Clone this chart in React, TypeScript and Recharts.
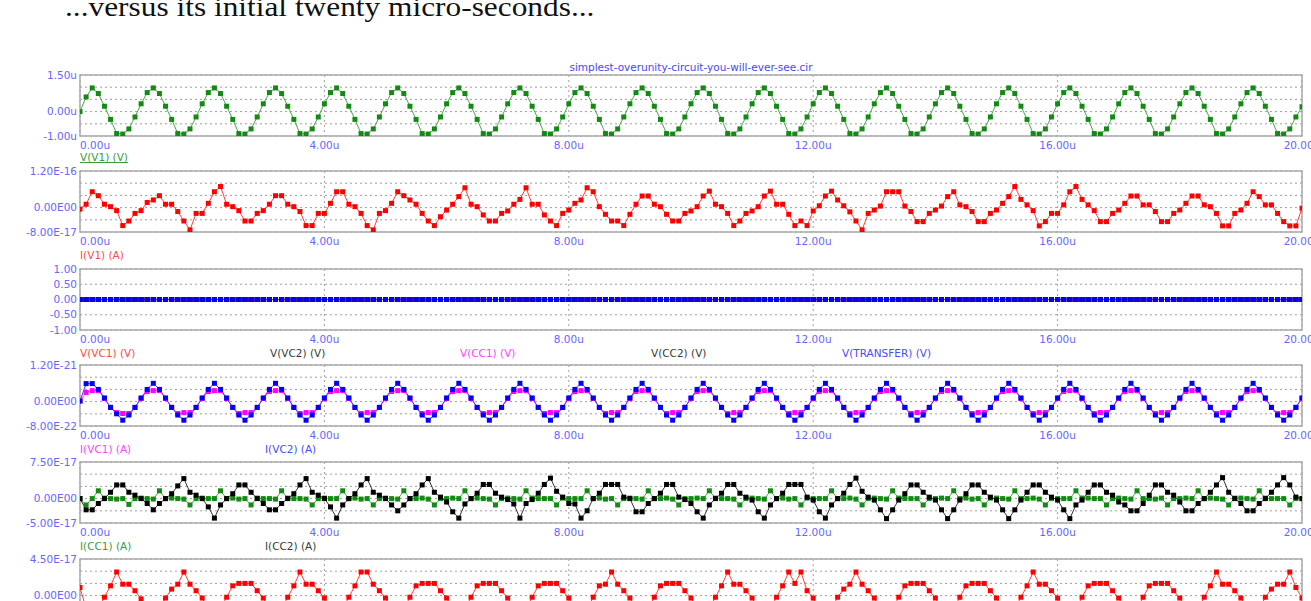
import React from 'react';
import { LineChart, Line, XAxis, YAxis, CartesianGrid, ReferenceArea } from 'recharts';

const FONT = '"DejaVu Sans", Arial, sans-serif';
const AXIS_BLUE = '#6666ff';

// simulator output step (us)
const T_STEP = 0.1;

const xTicks = [0, 4, 8, 12, 16, 20];
const xTickLabels = ['0.00u', '4.00u', '8.00u', '12.00u', '16.00u', '20.00u'];

// V(V1) in uV
const vV1 = [
  0.0, 0.6, 0.97, 0.74, 0.22, -0.32, -0.9, -0.92, -0.71, -0.22,
  0.32, 0.78, 0.97, 0.74, 0.22, -0.32, -0.9, -0.92, -0.71, -0.22,
  0.32, 0.78, 0.97, 0.74, 0.22, -0.32, -0.9, -0.92, -0.71, -0.22,
  0.32, 0.78, 0.97, 0.74, 0.22, -0.32, -0.9, -0.92, -0.71, -0.22,
  0.32, 0.78, 0.97, 0.74, 0.22, -0.32, -0.9, -0.92, -0.71, -0.22,
  0.32, 0.78, 0.97, 0.74, 0.22, -0.32, -0.9, -0.92, -0.71, -0.22,
  0.32, 0.78, 0.97, 0.74, 0.22, -0.32, -0.9, -0.92, -0.71, -0.22,
  0.32, 0.78, 0.97, 0.74, 0.22, -0.32, -0.9, -0.92, -0.71, -0.22,
  0.32, 0.78, 0.97, 0.74, 0.22, -0.32, -0.9, -0.92, -0.71, -0.22,
  0.32, 0.78, 0.97, 0.74, 0.22, -0.32, -0.9, -0.92, -0.71, -0.22,
  0.32, 0.78, 0.97, 0.74, 0.22, -0.32, -0.9, -0.92, -0.71, -0.22,
  0.32, 0.78, 0.97, 0.74, 0.22, -0.32, -0.9, -0.92, -0.71, -0.22,
  0.32, 0.78, 0.97, 0.74, 0.22, -0.32, -0.9, -0.92, -0.71, -0.22,
  0.32, 0.78, 0.97, 0.74, 0.22, -0.32, -0.9, -0.92, -0.71, -0.22,
  0.32, 0.78, 0.97, 0.74, 0.22, -0.32, -0.9, -0.92, -0.71, -0.22,
  0.32, 0.78, 0.97, 0.74, 0.22, -0.32, -0.9, -0.92, -0.71, -0.22,
  0.32, 0.78, 0.97, 0.74, 0.22, -0.32, -0.9, -0.92, -0.71, -0.22,
  0.32, 0.78, 0.97, 0.74, 0.22, -0.32, -0.9, -0.92, -0.71, -0.22,
  0.32, 0.78, 0.97, 0.74, 0.22, -0.32, -0.9, -0.92, -0.71, -0.22,
  0.32, 0.78, 0.97, 0.74, 0.22, -0.32, -0.9, -0.92, -0.71, -0.22,
  0.2,
];
const vV1Ticks = [1.5, 1, 0.5, 0, -0.5, -1];
const vV1TickLabels = ['1.50u', '', '', '0.00u', '', '-1.00u'];

// I(V1) in 1e-17 A
const iV1 = [
  -0.5, 1.1, 5.2, 3.9, 1.1, 0.3, -1.0, -5.9, -4.4, -1.9,
  -1.0, 1.7, 2.5, 3.9, 1.1, 1.1, -1.3, -4.4, -7.3, -1.9,
  -1.9, 1.4, 5.2, 6.9, 1.1, 0.3, -1.0, -4.4, -4.4, -1.9,
  -1.0, 1.1, 3.9, 3.9, 1.1, 0.3, -1.3, -5.9, -5.9, -1.9,
  -1.9, 1.4, 5.2, 5.2, 1.1, 0.3, -1.9, -5.9, -7.3, -1.9,
  -1.0, 1.4, 5.2, 3.9, 2.5, 1.1, -1.9, -4.4, -5.9, -3.0,
  -0.8, 1.1, 3.6, 6.5, 1.1, 0.3, -2.4, -4.4, -4.4, -1.9,
  -1.1, 1.1, 2.7, 6.5, 1.1, 1.1, -2.4, -4.4, -5.9, -1.9,
  -0.8, 1.4, 2.5, 6.5, 5.2, 0.3, -2.2, -4.4, -4.4, -5.9,
  -2.2, 1.1, 3.8, 3.8, 1.1, 0.3, -2.2, -4.4, -4.4, -1.9,
  -1.1, 0.3, 3.8, 5.4, 1.1, 0.3, -1.9, -5.9, -4.4, -1.9,
  -1.1, 0.3, 3.8, 5.4, 1.1, 1.1, -2.2, -5.9, -4.4, -5.9,
  -1.1, 0.6, 3.8, 5.4, 2.5, 0.6, -1.4, -4.4, -7.3, -1.9,
  -0.8, 0.5, 5.2, 5.2, 5.2, 0.5, -1.3, -4.6, -4.6, -1.9,
  -0.8, 0.5, 3.6, 5.2, 0.9, 0.3, -1.3, -4.6, -4.6, -1.9,
  -0.8, 1.4, 3.6, 6.9, 2.7, 0.9, -1.0, -6.0, -4.6, -1.9,
  -1.9, 0.9, 5.2, 6.9, 2.7, 0.9, -1.0, -4.6, -4.6, -1.9,
  -0.8, 1.4, 3.8, 3.8, 0.9, 0.9, -1.3, -4.6, -4.6, -1.9,
  -0.8, 1.4, 3.8, 3.8, 0.9, 0.3, -1.9, -6.0, -6.0, -1.9,
  -0.8, 1.4, 5.2, 3.6, 0.9, 0.9, -1.9, -4.6, -6.0, -6.0,
  -0.2,
];
const iV1Ticks = [12, 8, 4, 0, -4, -8];
const iV1TickLabels = ['1.20E-16', '', '', '0.00E00', '', '-8.00E-17'];

// V(VC1), V(VC2), V(CC1), V(CC2), V(TRANSFER) - all sit flat on 0
const vNodes = [
  0, 0, 0, 0, 0, 0, 0, 0, 0, 0, 0, 0, 0, 0, 0, 0, 0, 0, 0, 0,
  0, 0, 0, 0, 0, 0, 0, 0, 0, 0, 0, 0, 0, 0, 0, 0, 0, 0, 0, 0,
  0, 0, 0, 0, 0, 0, 0, 0, 0, 0, 0, 0, 0, 0, 0, 0, 0, 0, 0, 0,
  0, 0, 0, 0, 0, 0, 0, 0, 0, 0, 0, 0, 0, 0, 0, 0, 0, 0, 0, 0,
  0, 0, 0, 0, 0, 0, 0, 0, 0, 0, 0, 0, 0, 0, 0, 0, 0, 0, 0, 0,
  0, 0, 0, 0, 0, 0, 0, 0, 0, 0, 0, 0, 0, 0, 0, 0, 0, 0, 0, 0,
  0, 0, 0, 0, 0, 0, 0, 0, 0, 0, 0, 0, 0, 0, 0, 0, 0, 0, 0, 0,
  0, 0, 0, 0, 0, 0, 0, 0, 0, 0, 0, 0, 0, 0, 0, 0, 0, 0, 0, 0,
  0, 0, 0, 0, 0, 0, 0, 0, 0, 0, 0, 0, 0, 0, 0, 0, 0, 0, 0, 0,
  0, 0, 0, 0, 0, 0, 0, 0, 0, 0, 0, 0, 0, 0, 0, 0, 0, 0, 0, 0,
  0,
];
const vNodeTicks = [1, 0.5, 0, -0.5, -1];
const vNodeTickLabels = ['1.00', '0.50', '0.00', '-0.50', '-1.00'];

// I(VC1) in 1e-22 A
const iVC1 = [
  0.2, 3.0, 3.6, 3.6, 1.0, -1.9, -3.6, -3.9, -3.9, -1.9,
  1.0, 3.3, 3.6, 3.6, 1.0, -1.9, -3.9, -3.6, -3.6, -1.9,
  1.0, 3.3, 3.6, 3.6, 1.0, -1.9, -3.9, -3.6, -3.6, -1.9,
  1.0, 3.3, 3.6, 3.6, 1.0, -1.9, -3.9, -3.6, -3.6, -1.9,
  1.0, 3.3, 3.6, 3.6, 1.0, -1.9, -3.9, -3.6, -3.6, -1.9,
  1.0, 3.3, 3.6, 3.6, 1.0, -1.9, -3.9, -3.6, -3.6, -1.9,
  1.0, 3.3, 3.6, 3.6, 1.0, -1.9, -3.9, -3.6, -3.6, -1.9,
  1.0, 3.3, 3.6, 3.6, 1.0, -1.9, -3.9, -3.6, -3.6, -1.9,
  1.0, 3.3, 3.6, 3.6, 1.0, -1.9, -3.9, -3.6, -3.6, -1.9,
  1.0, 3.3, 3.6, 3.6, 1.0, -1.9, -3.9, -3.6, -3.6, -1.9,
  1.0, 3.3, 3.6, 3.6, 1.0, -1.9, -3.9, -3.6, -3.6, -1.9,
  1.0, 3.3, 3.6, 3.6, 1.0, -1.9, -3.9, -3.6, -3.6, -1.9,
  1.0, 3.3, 3.6, 3.6, 1.0, -1.9, -3.9, -3.6, -3.6, -1.9,
  1.0, 3.3, 3.6, 3.6, 1.0, -1.9, -3.9, -3.6, -3.6, -1.9,
  1.0, 3.3, 3.6, 3.6, 1.0, -1.9, -3.9, -3.6, -3.6, -1.9,
  1.0, 3.3, 3.6, 3.6, 1.0, -1.9, -3.9, -3.6, -3.6, -1.9,
  1.0, 3.3, 3.6, 3.6, 1.0, -1.9, -3.9, -3.6, -3.6, -1.9,
  1.0, 3.3, 3.6, 3.6, 1.0, -1.9, -3.9, -3.6, -3.6, -1.9,
  1.0, 3.3, 3.6, 3.6, 1.0, -1.9, -3.9, -3.6, -3.6, -1.9,
  1.0, 3.3, 3.6, 3.6, 1.0, -1.9, -3.9, -3.6, -3.6, -1.9,
  1.0,
];
// I(VC2) in 1e-22 A
const iVC2 = [
  0.2, 5.9, 5.9, 4.0, 1.2, -1.9, -4.0, -6.1, -4.4, -1.9,
  1.2, 4.0, 6.0, 4.0, 1.2, -1.9, -4.4, -6.1, -4.4, -1.9,
  1.2, 4.0, 6.0, 4.0, 1.2, -1.9, -4.4, -6.1, -4.4, -1.9,
  1.2, 4.0, 6.0, 4.0, 1.2, -1.9, -4.4, -6.1, -4.4, -1.9,
  1.2, 4.0, 6.0, 4.0, 1.2, -1.9, -4.4, -6.1, -4.4, -1.9,
  1.2, 4.0, 6.0, 4.0, 1.2, -1.9, -4.4, -6.1, -4.4, -1.9,
  1.2, 4.0, 6.0, 4.0, 1.2, -1.9, -4.4, -6.1, -4.4, -1.9,
  1.2, 4.0, 6.0, 4.0, 1.2, -1.9, -4.4, -6.1, -4.4, -1.9,
  1.2, 4.0, 6.0, 4.0, 1.2, -1.9, -4.4, -6.1, -4.4, -1.9,
  1.2, 4.0, 6.0, 4.0, 1.2, -1.9, -4.4, -6.1, -4.4, -1.9,
  1.2, 4.0, 6.0, 4.0, 1.2, -1.9, -4.4, -6.1, -4.4, -1.9,
  1.2, 4.0, 6.0, 4.0, 1.2, -1.9, -4.4, -6.1, -4.4, -1.9,
  1.2, 4.0, 6.0, 4.0, 1.2, -1.9, -4.4, -6.1, -4.4, -1.9,
  1.2, 4.0, 6.0, 4.0, 1.2, -1.9, -4.4, -6.1, -4.4, -1.9,
  1.2, 4.0, 6.0, 4.0, 1.2, -1.9, -4.4, -6.1, -4.4, -1.9,
  1.2, 4.0, 6.0, 4.0, 1.2, -1.9, -4.4, -6.1, -4.4, -1.9,
  1.2, 4.0, 6.0, 4.0, 1.2, -1.9, -4.4, -6.1, -4.4, -1.9,
  1.2, 4.0, 6.0, 4.0, 1.2, -1.9, -4.4, -6.1, -4.4, -1.9,
  1.2, 4.0, 6.0, 4.0, 1.2, -1.9, -4.4, -6.1, -4.4, -1.9,
  1.2, 4.0, 6.0, 4.0, 1.2, -1.9, -4.4, -6.1, -4.4, -1.9,
  1.2,
];
const iVCTicks = [12, 8, 4, 0, -4, -8];
const iVCTickLabels = ['1.20E-21', '', '', '0.00E00', '', '-8.00E-22'];

// I(CC1) in 1e-17 A
const iCC1 = [
  0, -1.3, 0, 1.6, 0.1, 0, -0.1, 0, -1.2, 0,
  0.1, 0, -0.1, 1.6, 0, 0.1, 0, -0.1, -1.3, 0,
  0.1, 0, 0, 1.6, 0, 0.1, -0.1, 0, -1.3, 0.1,
  0, 0, -0.1, 1.6, 0.1, 0, 0, -0.1, -1.3, 0,
  0.1, 0, 0, 1.6, 0, 0.1, -0.1, 0, -1.3, 0,
  0.1, 0, -0.1, 1.6, 0, 0, 0.1, -0.1, -1.3, 0,
  0, 0.1, 0, 1.6, 0, 0.1, 0, -0.1, -1.3, 0,
  0.1, 0, -0.1, 1.6, 0.1, 0, 0, 0, -1.3, 0.1,
  0, 0, 0, 1.6, 0, 0.1, -0.1, 0, -1.3, 0,
  0.1, 0, -0.1, 1.6, 0, 0, 0.1, -0.1, -1.3, 0,
  0, 0.1, 0, 1.6, 0.1, 0, 0, -0.1, -1.3, 0,
  0.1, 0, -0.1, 1.6, 0, 0.1, -0.1, 0, -1.3, 0.1,
  0, 0, 0, 1.6, 0, 0, 0.1, -0.1, -1.3, 0,
  0.1, 0, -0.1, 1.6, 0.1, 0, 0, 0, -1.3, 0,
  0, 0.1, 0, 1.6, 0, 0.1, -0.1, 0, -1.3, 0.1,
  0.1, 0, -0.1, 1.6, 0, 0, 0.1, -0.1, -1.3, 0,
  0, 0, 0, 1.6, 0.1, 0.1, 0, 0, -1.3, 0,
  0.1, 0, -0.1, 1.6, 0, 0, -0.1, 0.1, -1.3, 0,
  0, 0.1, 0, 1.6, 0, 0.1, 0, -0.1, -1.3, 0.1,
  0.1, 0, -0.1, 1.6, 0.1, 0, 0, 0, -1.3, 0,
  0,
];
// I(CC2) in 1e-17 A
const iCC2 = [
  0, -2.3, -2.3, -1.0, 0, 1.3, 2.8, 2.8, 1.3, 0.7,
  0, -1.0, -2.3, -1.0, 0, 1.0, 2.6, 4.1, 1.3, 0.7,
  0, -1.7, -4.0, -1.3, 0, 1.0, 2.8, 2.8, 1.3, 0,
  -1.0, -2.3, -2.3, -1.0, 0, 1.0, 2.8, 4.1, 1.3, 0.7,
  0, -1.7, -4.0, -1.3, 0, 1.0, 2.8, 4.1, 1.3, 0.7,
  0, -1.3, -2.5, -1.3, 0, 1.0, 2.8, 4.1, 1.3, 0.3,
  -0.7, -2.7, -4.0, -1.1, 0, 1.1, 2.9, 2.9, 1.1, 0.3,
  -0.2, -1.1, -4.0, -1.0, -0.2, 1.1, 2.9, 4.2, 1.5, 0.3,
  -1.0, -1.1, -4.0, -2.5, 0, 1.1, 2.9, 2.9, 2.9, 0.3,
  0, -2.7, -2.7, -1.0, 0, 1.1, 2.9, 2.9, 0.3, -0.2,
  -1.0, -2.7, -4.0, -1.3, 0, 1.1, 2.9, 2.9, 1.1, 0.3,
  -0.3, -2.7, -4.0, -1.3, 0, 1.1, 2.9, 2.9, 2.9, 0.3,
  -0.3, -2.7, -4.0, -1.3, 0, 1.1, 2.9, 4.2, 1.5, 0.3,
  -0.3, -2.3, -4.1, -2.3, -0.3, 1.0, 2.8, 2.8, 1.3, 0.3,
  -0.3, -2.3, -4.1, -2.3, -0.3, 1.0, 2.8, 2.8, 1.3, 0.3,
  -0.3, -2.3, -4.1, -2.3, -0.3, 1.3, 2.8, 2.8, 1.3, 0.3,
  -0.3, -2.3, -4.1, -1.3, -0.3, 1.3, 2.8, 2.8, 1.3, 0.7,
  -0.7, -1.3, -2.5, -2.5, -1.0, 0.7, 2.8, 2.8, 1.3, 0.7,
  -0.7, -2.5, -2.5, -1.0, 0, 1.3, 2.8, 4.3, 1.3, 0,
  -1.0, -2.5, -2.5, -1.0, 0, 1.3, 2.8, 4.3, 2.8, 0.3,
  0,
];
const iCCTicks = [7.5, 5, 2.5, 0, -2.5, -5];
const iCCTickLabels = ['7.50E-17', '', '', '0.00E00', '', '-5.00E-17'];

// bottom panel current in 1e-17 A (lower half runs off the page)
const iLast = [
  1.0, -1.6, -2.9, -1.6, -0.2, 1.2, 2.9, 1.4, 1.4, 0.6,
  -0.4, -1.6, -2.9, -1.6, -0.3, 0.8, 1.4, 2.9, 1.4, 0.6,
  -0.3, -1.6, -2.9, -1.6, -0.2, 1.2, 1.5, 1.5, 1.5, 0.6,
  -0.3, -1.6, -2.9, -1.6, -0.2, 1.2, 2.9, 1.4, 1.4, 0.6,
  -0.3, -1.6, -2.9, -1.6, -0.2, 1.2, 2.9, 2.9, 1.4, 0.6,
  -0.3, -1.6, -2.9, -1.6, -0.2, 1.2, 1.5, 1.5, 1.5, 0.6,
  -0.3, -1.6, -2.9, -1.6, -0.2, 1.2, 1.5, 1.5, 1.5, 0.6,
  -0.3, -1.6, -2.9, -1.6, -0.2, 1.2, 1.5, 1.5, 1.5, 0.6,
  -0.3, -1.6, -2.9, -1.6, -0.2, 1.2, 1.4, 2.9, 1.4, 0.6,
  -0.3, -1.6, -2.9, -1.6, -0.2, 1.2, 1.5, 1.5, 1.5, 0.6,
  -0.3, -1.6, -2.9, -1.6, -0.2, 1.2, 2.9, 1.4, 1.4, 0.6,
  -0.3, -1.6, -2.9, -1.6, -0.2, 1.2, 2.9, 1.5, 2.9, 0.6,
  -0.3, -1.6, -2.9, -1.6, -0.2, 0.8, 1.4, 2.9, 1.4, 0.6,
  -0.3, -1.6, -2.9, -1.6, -0.2, 1.2, 1.5, 1.5, 1.5, 0.6,
  -0.3, -1.6, -2.9, -1.6, -0.2, 1.2, 1.5, 1.5, 1.5, 0.6,
  -0.3, -1.6, -2.9, -1.6, -0.2, 1.2, 2.9, 1.4, 1.4, 0.6,
  -0.3, -1.6, -2.9, -1.6, -0.2, 1.2, 1.5, 1.5, 1.5, 0.6,
  -0.3, -1.6, -2.9, -1.6, -0.2, 1.2, 1.5, 1.5, 1.5, 0.6,
  -0.3, -1.6, -2.9, -1.6, -0.2, 1.2, 2.9, 1.4, 1.4, 0.6,
  -0.3, -1.6, -2.9, -1.6, -0.2, 0.8, 1.4, 1.4, 2.9, 1.0,
  -0.3,
];
const iLastTicks = [4.5, 3, 1.5, 0, -1.5, -3];
const iLastTickLabels = ['4.50E-17', '', '', '0.00E00', '', '-3.00E-17'];

type Series = { key: string; values: number[]; dot: string; line: string };
type LegendItem = { text: string; color: string; x: number; underline?: boolean };

const squareDot = (color: string) => (p: any) => (
  <rect key={`d${p.index}`} x={p.cx - 2.5} y={p.cy - 2.5} width={5} height={5} fill={color} />
);

const XTick = (props: any) => {
  const { x, y, payload } = props;
  const label = xTickLabels[xTicks.indexOf(payload.value)];
  return (
    <text x={x} y={y + 12.5} textAnchor={payload.value === 0 ? 'start' : 'middle'}
      fill={AXIS_BLUE} fontSize={10.5} fontFamily={FONT}>
      {label}
    </text>
  );
};

function Panel({ top, series, ticks, tickLabels, legend, legendGap = 23 }: {
  top: number; series: Series[]; ticks: number[]; tickLabels: string[];
  legend: LegendItem[]; legendGap?: number;
}) {
  const data = series[0].values.map((_, i) => {
    const row: Record<string, number> = { t: i * T_STEP };
    series.forEach((s) => { row[s.key] = s.values[i]; });
    return row;
  });
  const hi = ticks[0];
  const lo = ticks[ticks.length - 1];

  return (
    <div style={{ position: 'absolute', left: 0, top: top - 5 }}>
      <LineChart width={1311} height={86} data={data} margin={{ top: 5, right: 9, bottom: 0, left: 0 }}>
        <CartesianGrid stroke="#9e9e9e" strokeDasharray="2 3" />
        <XAxis dataKey="t" type="number" domain={[0, 20]} ticks={xTicks} interval={0}
          allowDataOverflow axisLine={false} tickLine={false} tickSize={0} tickMargin={0}
          height={20} tick={<XTick />} />
        <YAxis type="number" domain={[lo, hi]} ticks={ticks} interval={0} allowDataOverflow
          width={80} axisLine={false} tickLine={false} tickSize={0} tickMargin={3}
          tick={{ fill: AXIS_BLUE, fontSize: 10.5, fontFamily: FONT }}
          tickFormatter={(v: number) => tickLabels[ticks.indexOf(v)] ?? ''} />
        <ReferenceArea x1={0} x2={20} y1={lo} y2={hi} fill="none" fillOpacity={0}
          stroke="#ababab" strokeWidth={1.5} ifOverflow="visible" />
        {series.map((s) => (
          <Line key={s.key} type="linear" dataKey={s.key} stroke={s.line} strokeWidth={1}
            dot={squareDot(s.dot)} activeDot={false} isAnimationActive={false} />
        ))}
      </LineChart>
      {legend.map((l) => (
        <div key={l.text} style={{
          position: 'absolute', left: l.x, top: 66 + legendGap - 7, lineHeight: '14px',
          fontFamily: FONT, fontSize: 10.5, color: l.color, whiteSpace: 'nowrap',
          textDecoration: l.underline ? 'underline' : 'none',
        }}>
          {l.text}
        </div>
      ))}
    </div>
  );
}

export default function App() {
  return (
    <div style={{ position: 'absolute', left: 0, top: 0, width: 1311, height: 601, overflow: 'hidden', background: '#fff' }}>
      <svg width={1311} height={80} style={{ position: 'absolute', left: 0, top: 0 }}>
        <text transform="translate(65,16) scale(1.12,1)" fontFamily='"Liberation Serif", "Times New Roman", serif'
          fontSize={28} fill="#111">
          ...versus its initial twenty micro-seconds...
        </text>
        <text x={691} y={71} textAnchor="middle" fontFamily={FONT} fontSize={10.5} fill="#4646ff">
          simplest-overunity-circuit-you-will-ever-see.cir
        </text>
      </svg>

      <Panel top={75} ticks={vV1Ticks} tickLabels={vV1TickLabels} legendGap={21}
        series={[{ key: 'v1', values: vV1, dot: '#138a13', line: '#4aa84a' }]}
        legend={[{ text: 'V(V1) (V)', color: '#3c9c3c', x: 80, underline: true }]} />

      <Panel top={171} ticks={iV1Ticks} tickLabels={iV1TickLabels}
        series={[{ key: 'i1', values: iV1, dot: '#ff0000', line: '#ff3c3c' }]}
        legend={[{ text: 'I(V1) (A)', color: '#ff4a4a', x: 80 }]} />

      <Panel top={269} ticks={vNodeTicks} tickLabels={vNodeTickLabels}
        series={[
          { key: 'vc1', values: vNodes, dot: '#ff0000', line: '#ff3c3c' },
          { key: 'vc2', values: vNodes, dot: '#000000', line: '#333333' },
          { key: 'cc1', values: vNodes, dot: '#ff00ff', line: '#ff40ff' },
          { key: 'cc2', values: vNodes, dot: '#000000', line: '#333333' },
          { key: 'tr', values: vNodes, dot: '#0000ff', line: '#3c3cff' },
        ]}
        legend={[
          { text: 'V(VC1) (V)', color: '#ff4a4a', x: 80 },
          { text: 'V(VC2) (V)', color: '#3a3a3a', x: 270 },
          { text: 'V(CC1) (V)', color: '#ff44ff', x: 460 },
          { text: 'V(CC2) (V)', color: '#3a3a3a', x: 651 },
          { text: 'V(TRANSFER) (V)', color: '#4a4aff', x: 842 },
        ]} />

      <Panel top={365} ticks={iVCTicks} tickLabels={iVCTickLabels}
        series={[
          { key: 'ivc1', values: iVC1, dot: '#ff00ff', line: '#ff40ff' },
          { key: 'ivc2', values: iVC2, dot: '#0000ff', line: '#3c3cff' },
        ]}
        legend={[
          { text: 'I(VC1) (A)', color: '#ff44ff', x: 80 },
          { text: 'I(VC2) (A)', color: '#4a4aff', x: 265 },
        ]} />

      <Panel top={462} ticks={iCCTicks} tickLabels={iCCTickLabels}
        series={[
          { key: 'icc1', values: iCC1, dot: '#138a13', line: '#4aa84a' },
          { key: 'icc2', values: iCC2, dot: '#000000', line: '#333333' },
        ]}
        legend={[
          { text: 'I(CC1) (A)', color: '#3c9c3c', x: 80 },
          { text: 'I(CC2) (A)', color: '#3a3a3a', x: 265 },
        ]} />

      <Panel top={559} ticks={iLastTicks} tickLabels={iLastTickLabels}
        series={[{ key: 'ilast', values: iLast, dot: '#ff0000', line: '#ff3c3c' }]}
        legend={[]} />
    </div>
  );
}
